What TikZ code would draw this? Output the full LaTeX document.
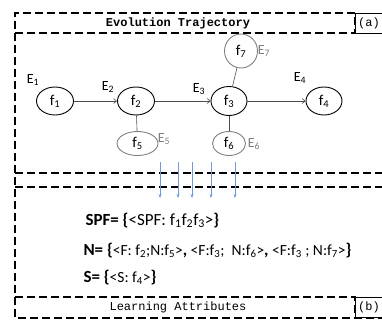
\documentclass[tikz,border=0pt]{standalone}
\usepackage{fontspec}
\setmainfont{Carlito}
\newfontfamily\titlefont{Liberation Mono}
\usetikzlibrary{shapes.geometric,arrows.meta}
\definecolor{flowblue}{RGB}{110,155,215}
\newcommand{\bigb}[1]{{\fontsize{17}{19}\selectfont\bfseries #1}}
\newcommand{\fs}[1]{f\textsubscript{#1}}

\begin{document}
\begin{tikzpicture}[
x=1pt, y=-1pt,
frame/.style={line width=1.1pt, dash pattern=on 8pt off 4pt},
tag/.style={draw, line width=0.4pt, anchor=west, minimum height=20pt, inner sep=3pt, font=\titlefont\fontsize{12}{14}\selectfont},
fnode/.style={ellipse, draw, line width=0.9pt, inner sep=0pt, font=\fontsize{15}{17}\selectfont},
nnode/.style={fnode, draw=gray},
elabel/.style={font=\fontsize{14}{16}\selectfont},
nlabel/.style={elabel, text=gray},
link/.style={draw=black!70, line width=0.6pt},
flow/.style={draw=flowblue, line width=0.7pt, -{Stealth[length=4pt,width=3pt]}},
]
\useasboundingbox (0,0) rectangle (382,324);

\draw[frame] (355,13) -- (15,13) -- (15,318) -- (382,318);
\draw[frame] (15,33) -- (355,33) -- (355,13);
\draw[frame] (15,173) -- (382,173);
\draw[frame] (15,187) -- (382,187);
\draw[frame] (15,297) -- (355,297) -- (355,318);
\node[font=\titlefont\bfseries\fontsize{12}{14}\selectfont] (title) at (178,23) {Evolution Trajectory};
\node[tag] (taga) at (355,23) {(a)};
\node[font=\titlefont\fontsize{12}{14}\selectfont] (learn) at (178,307) {Learning Attributes};
\node[tag] (tagb) at (355,307.5) {(b)};

\node[fnode, minimum width=37pt, minimum height=28pt] (f1) at (55,101) {\fs{1}};
\node[fnode, minimum width=37pt, minimum height=28pt] (f2) at (136,101) {\fs{2}};
\node[fnode, minimum width=36pt, minimum height=29pt] (f3) at (229,101) {\fs{3}};
\node[fnode, minimum width=36pt, minimum height=28pt] (f4) at (324,101) {\fs{4}};
\node[nnode, minimum width=41pt, minimum height=24pt] (f5) at (137.5,143.5) {\fs{5}};
\node[nnode, minimum width=33pt, minimum height=24pt] (f6) at (229,143.5) {\fs{6}};
\node[nnode, minimum width=33pt, minimum height=34pt] (f7) at (241,51) {\fs{7}};

\node[elabel] (e1) at (33,80) {E\textsubscript{1}};
\node[elabel] (e2) at (108,87) {E\textsubscript{2}};
\node[elabel] (e3) at (199,89) {E\textsubscript{3}};
\node[elabel] (e4) at (300,78) {E\textsubscript{4}};
\node[nlabel] (e5) at (164,139) {E\textsubscript{5}};
\node[nlabel] (e6) at (254,144) {E\textsubscript{6}};
\node[nlabel] (e7) at (264,51) {E\textsubscript{7}};

\draw[link, -{Straight Barb[length=3pt,width=5pt]}] (f1) -- (f2);
\draw[link, -{Straight Barb[length=3pt,width=5pt]}] (f2) -- (f3);
\draw[link, -{Straight Barb[length=3pt,width=5pt]}] (f3) -- (f4);
\draw[link] (f2) -- (f5);
\draw[link] (f3) -- (f6);
\draw[link] (f3) -- (f7);

\foreach \x [count=\i] in {160,178,192,211,235} {
  \coordinate (s\i) at (\x,162);
  \coordinate (t\i) at (\x,198);
  \draw[flow] (s\i) -- (t\i);
}

\node[anchor=base west, font=\fontsize{17}{19}\selectfont] (spf) at (82,225)
  {\bigb{SPF= \{}<SPF: \fs{1}\fs{2}\fs{3}>\bigb{\}}};
\node[anchor=base west, font=\fontsize{15.5}{17}\selectfont] (nset) at (80,255)
  {\bigb{N= \{}<F: \fs{2};N:\fs{5}>\bigb{,} <F:\fs{3};\ \ N:\fs{6}>\bigb{,} <F:\fs{3} ; N:\fs{7}>\bigb{\}}};
\node[anchor=base west, font=\fontsize{15.5}{17}\selectfont] (sset) at (80,282)
  {\bigb{S= \{}<S: \fs{4}>\bigb{\}}};
\end{tikzpicture}
\end{document}
